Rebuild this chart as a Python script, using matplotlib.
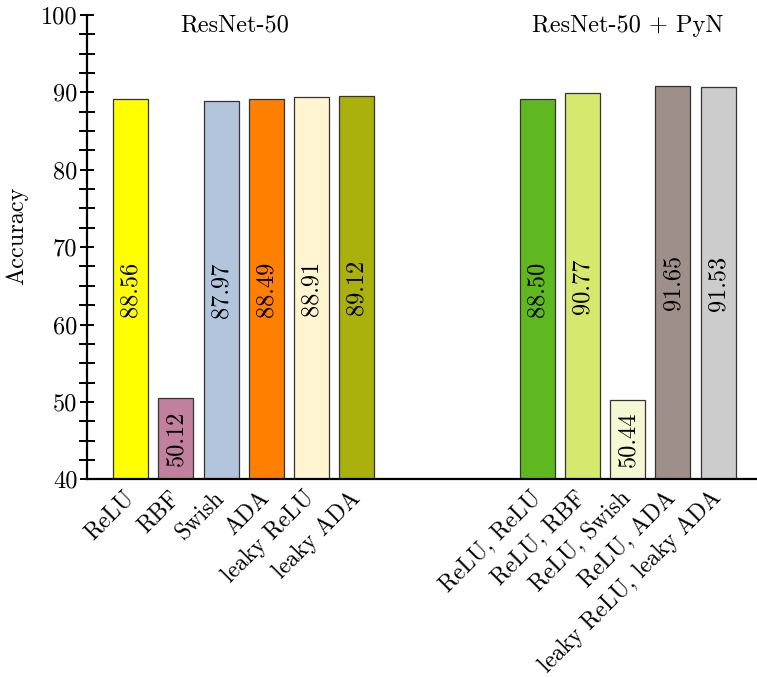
import numpy as np
import matplotlib
matplotlib.use("Agg")
import matplotlib.pyplot as plt
from matplotlib.ticker import MultipleLocator

plt.rcParams['font.family'] = ['cmr10', 'DejaVu Serif']
plt.rcParams['mathtext.fontset'] = 'cm'
plt.rcParams['axes.formatter.use_mathtext'] = True

# bar heights as drawn, and the numbers printed inside them
group1_names = ['ReLU', 'RBF', 'Swish', 'ADA', 'leaky ReLU', 'leaky ADA']
group1_heights = [89.13, 50.5, 88.84, 89.13, 89.39, 89.52]
group1_labels = ['88.56', '50.12', '87.97', '88.49', '88.91', '89.12']
group1_colors = ['#FFFF00', '#C1809D', '#B3C5DC', '#FF7F00', '#FFF5D0', '#AAB00C']

group2_names = ['ReLU, ReLU', 'ReLU, RBF', 'ReLU, Swish', 'ReLU, ADA',
                'leaky ReLU, leaky ADA']
group2_heights = [89.13, 89.95, 50.3, 90.77, 90.64]
group2_labels = ['88.50', '90.77', '50.44', '91.65', '91.53']
group2_colors = ['#60B820', '#D6E96E', '#F6F8D3', '#9F8F8A', '#CCCCCC']

group_titles = ['ResNet-50', 'ResNet-50 + PyN']

names = group1_names + group2_names
heights = np.array(group1_heights + group2_heights)
labels = group1_labels + group2_labels
colors = group1_colors + group2_colors
pos = np.concatenate([np.arange(6), np.arange(9, 14)])

base = 40
fs = 17.5

fig = plt.figure(figsize=(7.57, 6.77), dpi=100)
ax = fig.add_axes([0.1153, 0.292, 0.8847, 0.686])

ax.bar(pos, heights - base, bottom=base, width=0.775, color=colors,
       edgecolor='#333333', linewidth=0.9, zorder=2)

for x, h, lab in zip(pos, heights, labels):
    ax.text(x, (base + h) / 2, lab, rotation=90, ha='center', va='center',
            fontsize=fs, zorder=3)

ax.text(2.3, 98.6, group_titles[0], ha='center', va='center', fontsize=fs)
ax.text(11, 98.6, group_titles[1], ha='center', va='center', fontsize=fs)

ax.set_ylim(40, 100)
ax.set_xlim(-0.96, 13.86)
ax.yaxis.set_minor_locator(MultipleLocator(2.5))
ax.set_yticks(np.arange(40, 101, 10))
ax.set_yticklabels([str(v) for v in range(40, 101, 10)], fontsize=fs)
ax.tick_params(axis='y', which='major', direction='inout', length=10, width=1.4, pad=2)
ax.tick_params(axis='y', which='minor', direction='inout', length=12, width=1.4)

ax.set_xticks(pos)
ax.set_xticklabels(names, rotation=45, ha='right', va='center',
                   rotation_mode='anchor', fontsize=16.8)
ax.tick_params(axis='x', length=0, pad=11)

ax.spines['top'].set_visible(False)
ax.spines['right'].set_visible(False)
ax.spines['left'].set_linewidth(1.6)
ax.spines['bottom'].set_linewidth(1.6)

ax.set_ylabel('Accuracy', fontsize=fs)
ax.yaxis.set_label_coords(-0.0885, 0.525)

fig.savefig('out.png', dpi=100)
